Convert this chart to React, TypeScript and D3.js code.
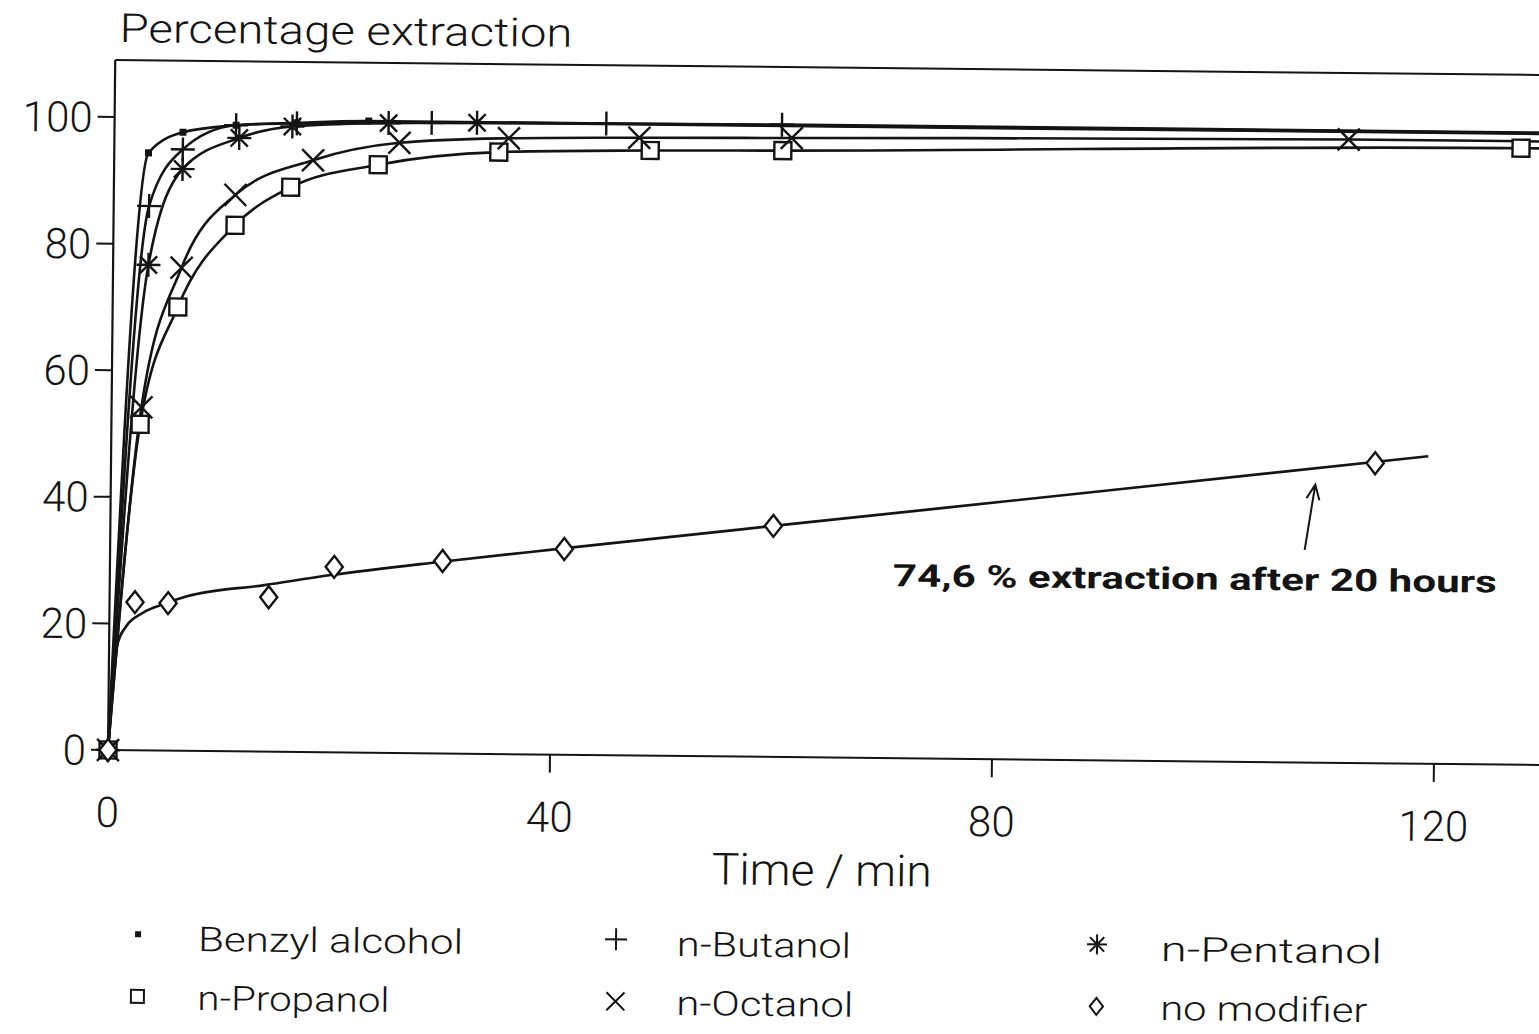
import React from 'react';
import * as d3 from 'd3';

// ---- data (time in min, percentage extraction) ----
const benzylT = [0, 3.1, 6.2, 11, 16.5, 23];
const benzylV = [0, 94.4, 97.7, 98.9, 99.4, 99.8];

const butanolT = [0, 3.2, 6.2, 11, 16.5, 28.7, 44.5, 60.4];
const butanolV = [0, 86, 95, 98.9, 99.3, 99.6, 99.8, 99.9];

const pentanolT = [0, 3.2, 6.2, 11.3, 16.1, 24.8, 32.8];
const pentanolV = [0, 76.7, 91.9, 96.9, 98.8, 99.5, 99.7];

const propanolT = [0, 2.6, 5.9, 11, 16, 23.9, 34.8, 48.5, 60.5, 127.3];
const propanolV = [0, 51.5, 70.1, 83.1, 89.2, 92.9, 95.1, 95.6, 95.8, 97.4];

const octanolT = [0, 2.7, 6.2, 11, 18, 25.8, 35.7, 47.5, 61.3, 111.7];
const octanolV = [0, 54.2, 76.3, 87.9, 93.5, 96.4, 97.3, 97.6, 97.8, 98.5];

const noModT = [0, 2.3, 5.3, 14.4, 20.3, 30.1, 41.1, 60, 114.4];
const noModV = [0, 23.4, 23.3, 24.4, 29.3, 30.4, 32.5, 36.5, 47.4];

// fitted curve drawn for "no modifier"
const noModFitT = [0, 0.8, 1.5, 3, 5, 7, 14, 20, 30, 41, 60, 90, 119.2];
const noModFitV = [0, 17, 19.5, 21.7, 23.2, 24.4, 26.3, 28, 30.3, 32.6, 36.5, 42.6, 48.6];

const xTicks = [40, 80, 120];
const xTickLabels = ['0', '40', '80', '120'];
const xLabelPos = [0, 40, 80, 120];
const yTicks = [0, 20, 40, 60, 80, 100];

const legendNames = ['Benzyl alcohol', 'n-Butanol', 'n-Pentanol', 'n-Propanol', 'n-Octanol', 'no modifier'];
const legendKinds = ['dot', 'plus', 'star', 'square', 'times', 'diamond'];

const annotationText = '74,6 % extraction after 20 hours';
const arrowTail = [108.1, 33.6];
const arrowHead = [109.0, 43.9];

const X_END = 131;

type Kind = 'dot' | 'plus' | 'star' | 'square' | 'times' | 'diamond';

function markerPath(kind: Kind, s: number): string {
  switch (kind) {
    case 'dot':
      return `M${-s},${-s}h${2 * s}v${2 * s}h${-2 * s}Z`;
    case 'plus':
      return `M${-s},0H${s}M0,${-s}V${s}`;
    case 'star': {
      const d = s * 0.72;
      return `M${-s},0H${s}M0,${-s}V${s}M${-d},${-d}L${d},${d}M${-d},${d}L${d},${-d}`;
    }
    case 'square':
      return `M${-s},${-s}h${2 * s}v${2 * s}h${-2 * s}Z`;
    case 'times':
      return `M${-s},${-s}L${s},${s}M${-s},${s}L${s},${-s}`;
    case 'diamond': {
      const w = s * 0.78;
      return `M0,${-s}L${w},0L0,${s}L${-w},0Z`;
    }
  }
  return '';
}

const plotSize: Record<Kind, number> = { dot: 3.5, plus: 12, star: 12, square: 8.5, times: 11, diamond: 11 };
const legendSize: Record<Kind, number> = { dot: 3, plus: 11, star: 10, square: 6.5, times: 9, diamond: 8.5 };

const FONT = "Roboto, 'Liberation Sans', Arial, sans-serif";
const INK = '#141414';

export default function App() {
  const x = d3.scaleLinear().domain([0, 120]).range([108, 1434]);
  const y = d3.scaleLinear().domain([0, 100]).range([750, 117]);

  const line = d3
    .line<[number, number]>()
    .x((d) => x(d[0]))
    .y((d) => y(d[1]))
    .curve(d3.curveMonotoneX);

  const zip = (T: number[], V: number[]): [number, number][] => T.map((t, i) => [t, V[i]]);
  const extended = (T: number[], V: number[]): [number, number][] => [
    ...zip(T, V),
    [X_END, V[V.length - 1]],
  ];

  const series: { kind: Kind; T: number[]; V: number[]; extend: boolean }[] = [
    { kind: 'dot', T: benzylT, V: benzylV, extend: true },
    { kind: 'plus', T: butanolT, V: butanolV, extend: true },
    { kind: 'star', T: pentanolT, V: pentanolV, extend: true },
    { kind: 'square', T: propanolT, V: propanolV, extend: true },
    { kind: 'times', T: octanolT, V: octanolV, extend: true },
    { kind: 'diamond', T: noModT, V: noModV, extend: false },
  ];

  const plotTop = 60;
  const x0 = x(0);
  const y0 = y(0);

  const legendX = [140, 618, 1099];
  const legendTextX = [200, 679, 1163];
  const legendMarkY = [934, 996];
  const legendBase = [950, 1009];
  const legendWidths = [265, 174, 221, 192, 177, 207];

  const ax = x(arrowHead[0]);
  const ay = y(arrowHead[1]);
  const tx = x(arrowTail[0]);
  const ty = y(arrowTail[1]);
  const ang = Math.atan2(ty - ay, tx - ax);
  const headLen = 16;
  const spread = 0.42;
  const h1 = [ax + headLen * Math.cos(ang - spread), ay + headLen * Math.sin(ang - spread)];
  const h2 = [ax + headLen * Math.cos(ang + spread), ay + headLen * Math.sin(ang + spread)];

  return (
    <svg
      width={1539}
      height={1034}
      style={{ position: 'absolute', left: 0, top: 0, background: '#fff' }}
    >
      <rect x={0} y={0} width={1539} height={1034} fill="#fff" />
      <g transform={`rotate(0.6, ${x0}, ${y0})`} fontFamily={FONT} fill={INK}>
        {/* title */}
        <text x={112} y={42} fontSize={40} fontWeight={300} textLength={453} lengthAdjust="spacingAndGlyphs">
          Percentage extraction
        </text>

        {/* frame */}
        <line x1={x0} y1={plotTop} x2={1560} y2={plotTop} stroke={INK} strokeWidth={2} />
        <line x1={x0} y1={plotTop} x2={x0} y2={y0} stroke={INK} strokeWidth={2.2} />
        <line x1={x0} y1={y0} x2={1560} y2={y0} stroke={INK} strokeWidth={2} />

        {/* y ticks & labels */}
        {yTicks.map((v) => (
          <g key={`y${v}`}>
            <line x1={x0 - 17} y1={y(v)} x2={x0} y2={y(v)} stroke={INK} strokeWidth={2} />
            <text x={86} y={y(v) + 15} fontSize={42} fontWeight={300} textAnchor="end">
              {String(v)}
            </text>
          </g>
        ))}

        {/* x ticks */}
        {xTicks.map((t) => (
          <line key={`xt${t}`} x1={x(t)} y1={y0} x2={x(t)} y2={y0 + 18} stroke={INK} strokeWidth={2} />
        ))}
        {xLabelPos.map((t, i) => (
          <text key={`xl${t}`} x={x(t)} y={827} fontSize={42} fontWeight={300} textAnchor="middle">
            {xTickLabels[i]}
          </text>
        ))}
        <text x={823} y={878} fontSize={44} fontWeight={300} textAnchor="middle" textLength={220} lengthAdjust="spacingAndGlyphs">
          Time / min
        </text>

        {/* curves */}
        {series
          .filter((s) => s.extend)
          .map((s, i) => (
            <path
              key={`c${i}`}
              d={line(extended(s.T, s.V)) || ''}
              fill="none"
              stroke={INK}
              strokeWidth={2.6}
            />
          ))}
        <path d={line(zip(noModFitT, noModFitV)) || ''} fill="none" stroke={INK} strokeWidth={2.6} />

        {/* markers */}
        {series.map((s, i) =>
          s.T.map((t, j) => (
            <path
              key={`m${i}-${j}`}
              transform={`translate(${x(t)},${y(s.V[j])})`}
              d={markerPath(s.kind, plotSize[s.kind])}
              fill={s.kind === 'dot' ? INK : s.kind === 'square' || s.kind === 'diamond' ? '#fff' : 'none'}
              stroke={INK}
              strokeWidth={s.kind === 'dot' ? 0 : 2.4}
            />
          ))
        )}

        {/* annotation */}
        <text x={1193} y={578} fontSize={31} fontWeight={700} textAnchor="middle" textLength={604} lengthAdjust="spacingAndGlyphs">
          {annotationText}
        </text>
        <path
          d={`M${tx},${ty}L${ax},${ay}M${h1[0]},${h1[1]}L${ax},${ay}L${h2[0]},${h2[1]}`}
          fill="none"
          stroke={INK}
          strokeWidth={2}
        />

        {/* legend */}
        {legendNames.map((name, i) => {
          const col = i % 3;
          const row = Math.floor(i / 3);
          const kind = legendKinds[i] as Kind;
          return (
            <g key={`lg${i}`}>
              <path
                transform={`translate(${legendX[col]},${legendMarkY[row]})`}
                d={markerPath(kind, legendSize[kind])}
                fill={kind === 'dot' ? INK : 'none'}
                stroke={INK}
                strokeWidth={kind === 'dot' ? 0 : 2}
              />
              <text
                x={legendTextX[col]}
                y={legendBase[row]}
                fontSize={34}
                fontWeight={300}
                textLength={legendWidths[i]}
                lengthAdjust="spacingAndGlyphs"
              >
                {name}
              </text>
            </g>
          );
        })}
      </g>
    </svg>
  );
}
